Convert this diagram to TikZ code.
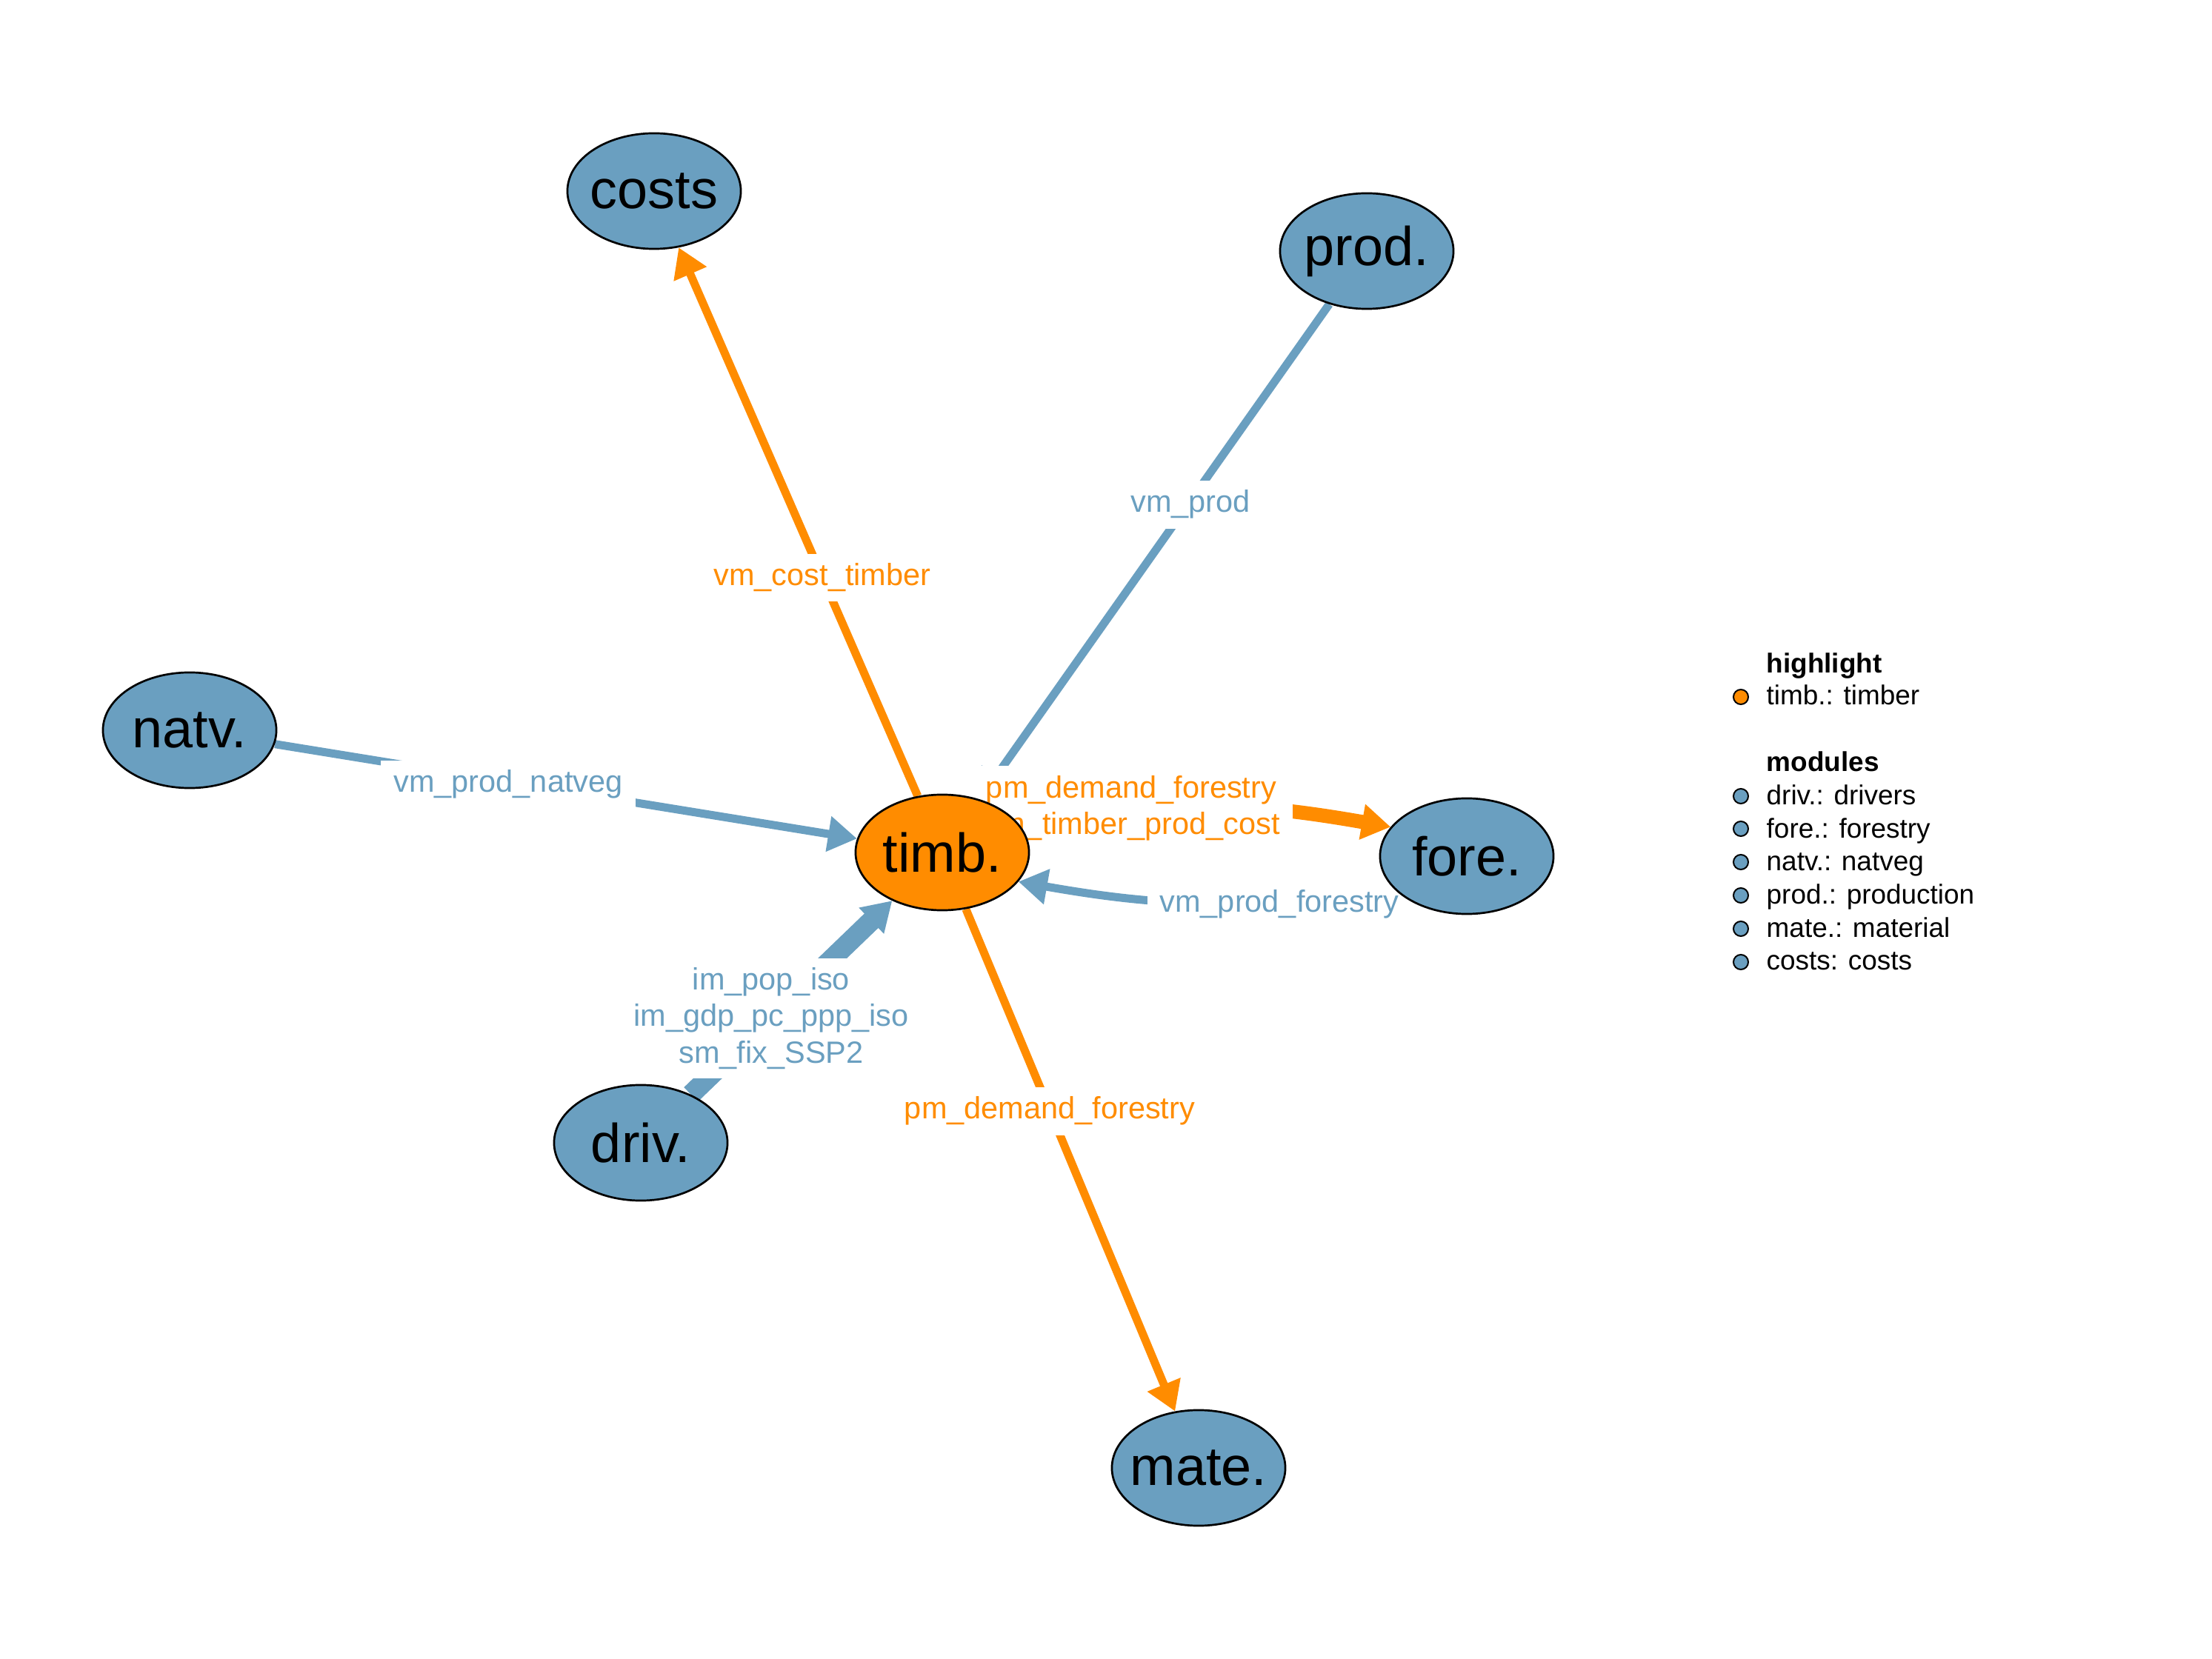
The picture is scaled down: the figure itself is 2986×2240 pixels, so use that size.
\documentclass[tikz,border=0pt]{standalone}
\usepackage{fontspec}
\setmainfont{Liberation Sans}
\usetikzlibrary{arrows.meta,shapes.geometric}
\definecolor{modblue}{RGB}{106,159,192}
\definecolor{hlorange}{RGB}{255,140,0}
\pgfdeclarelayer{bg}
\pgfsetlayers{bg,main}
\newcommand{\modtext}[1]{\makebox[0pt]{#1}}
\tikzset{
 module/.style={ellipse, draw=black, line width=0.027cm, fill=modblue, minimum width=2.34cm, minimum height=1.56cm, inner sep=0pt, font=\fontsize{21}{25}\selectfont},
 hlmodule/.style={module, fill=hlorange},
 link/.style={line width=0.11cm, -{Triangle[length=0.39cm,width=0.46cm]}},
 link2/.style={link, line width=0.19cm},
 link3/.style={link, line width=0.27cm},
 elabel/.style={fill=white, inner xsep=0.17cm, inner ysep=0.13cm, font=\fontsize{11.8}{14}\selectfont},
 legtext/.style={anchor=base west, inner sep=0pt, font=\fontsize{10.5}{13}\selectfont},
 leghead/.style={legtext, font=\fontsize{10.5}{13}\selectfont\bfseries},
 legdot/.style={circle, draw=black, line width=0.02cm, minimum size=0.2cm, inner sep=0pt},
}
\begin{document}
\begin{tikzpicture}[x=0.01cm,y=0.01cm]
\useasboundingbox (0,0) rectangle (2986,-2240);
% modules
\node[hlmodule] (timb) at (1272,-1151) {\modtext{timb.}};
\node[module] (costs) at (883,-258) {\modtext{costs}};
\node[module] (prod) at (1845,-339) {\modtext{prod.}};
\node[module] (natv) at (256,-986) {\modtext{natv.}};
\node[module] (fore) at (1980,-1156) {\modtext{fore.}};
\node[module] (driv) at (865,-1543) {\modtext{driv.}};
\node[module] (mate) at (1618,-1982) {\modtext{mate.}};
\begin{pgfonlayer}{bg}
% connectors
\draw[link, hlorange] (timb) -- (costs);
\draw[link, modblue] (prod) -- (timb);
\draw[link, modblue] (natv) -- (timb);
\draw[link3, modblue] (driv) -- (timb);
\draw[link, hlorange] (timb) -- (mate);
\draw[link2, hlorange] (timb.21) to[out=10,in=170] (fore.159);
\draw[link, modblue] (fore.201) to[out=190,in=350] (timb.339);
% labels
\node[elabel, text=hlorange, anchor=base] (lcost) at (1110,-791) {vm\_cost\_timber};
\node[elabel, text=modblue, anchor=base] (lprod) at (1607,-692) {vm\_prod};
\node[elabel, text=modblue, anchor=base] (lnatv) at (686,-1070) {vm\_prod\_natveg};
\node[elabel, text=hlorange, align=center] (lfore) at (1527,-1091) {pm\_demand\_forestry\\pm\_timber\_prod\_cost};
\node[elabel, text=modblue, anchor=base] (lforeb) at (1727,-1232) {vm\_prod\_forestry};
\node[elabel, text=modblue, align=center] (ldriv) at (1041,-1375) {im\_pop\_iso\\im\_gdp\_pc\_ppp\_iso\\sm\_fix\_SSP2};
\node[elabel, text=hlorange, anchor=base] (lmate) at (1417,-1511) {pm\_demand\_forestry};
\end{pgfonlayer}
% legend
\node[leghead] (lh1) at (2384,-909) {highlight};
\node[legdot, fill=hlorange] (g0) at (2350,-941) {};
\node[legtext] (t0) at (2384,-952) {timb.: timber};
\node[leghead] (lh2) at (2384,-1042) {modules};
\node[legdot, fill=modblue] (g1) at (2350,-1075) {};
\node[legtext] (t1) at (2384,-1087) {driv.: drivers};
\node[legdot, fill=modblue] (g2) at (2350,-1119) {};
\node[legtext] (t2) at (2384,-1132) {fore.: forestry};
\node[legdot, fill=modblue] (g3) at (2350,-1164) {};
\node[legtext] (t3) at (2384,-1176) {natv.: natveg};
\node[legdot, fill=modblue] (g4) at (2350,-1209) {};
\node[legtext] (t4) at (2384,-1221) {prod.: production};
\node[legdot, fill=modblue] (g5) at (2350,-1254) {};
\node[legtext] (t5) at (2384,-1266) {mate.: material};
\node[legdot, fill=modblue] (g6) at (2350,-1299) {};
\node[legtext] (t6) at (2384,-1310) {costs: costs};
\end{tikzpicture}
\end{document}
